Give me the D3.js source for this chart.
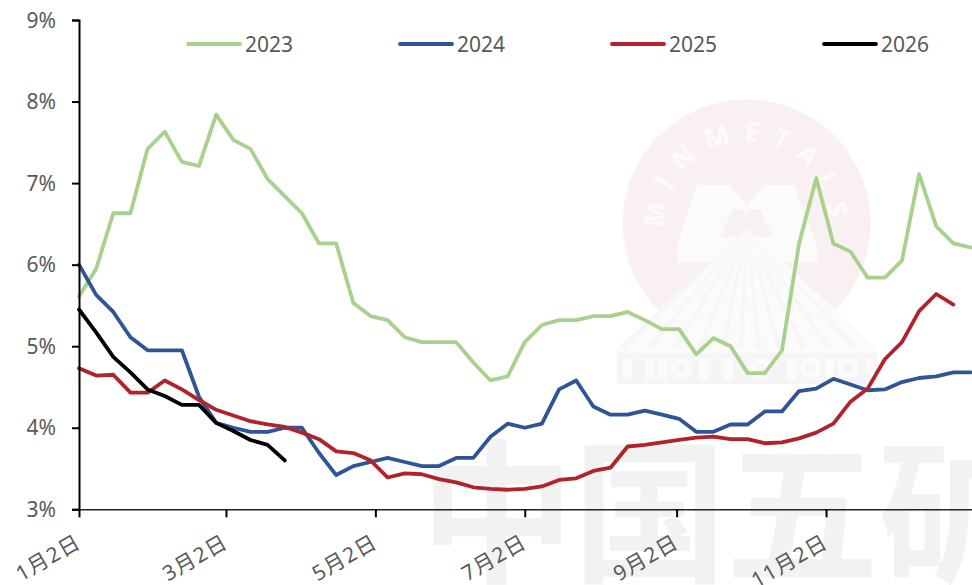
<!DOCTYPE html>
<html>
<head>
<meta charset="utf-8">
<script src="https://cdn.jsdelivr.net/npm/d3@7/dist/d3.min.js"></script>
<style>
html,body{margin:0;padding:0;background:#fff;overflow:hidden}
svg{display:block}
text{font-family:"Noto Sans","Noto Sans CJK SC",sans-serif;fill:#595959}
</style>
</head>
<body>
<svg id="chart" width="972" height="585"></svg>
<script>
const seriesNames = ["2023","2024","2025","2026"];
const seriesColors = ["#A9D18E","#2F5597","#B2222C","#000000"];
const yTickValues = [3,4,5,6,7,8,9];
const xTickDates = ["2024-01-02","2024-03-02","2024-05-02","2024-07-02","2024-09-02","2024-11-02"];
const xTickLabels = ["1月2日","3月2日","5月2日","7月2日","9月2日","11月2日"];
const watermarkChars = ["中","国","五","矿"];
const values2023 = [5.61,5.95,6.63,6.63,7.42,7.63,7.26,7.21,7.84,7.53,7.42,7.05,6.84,6.63,6.26,6.26,5.53,5.37,5.32,5.11,5.05,5.05,5.05,4.80,4.58,4.63,5.05,5.26,5.32,5.32,5.37,5.37,5.42,5.32,5.21,5.21,4.90,5.10,5.00,4.67,4.67,4.95,6.26,7.06,6.26,6.16,5.84,5.84,6.05,7.11,6.47,6.26,6.21];
const values2024 = [6.00,5.63,5.42,5.11,4.95,4.95,4.95,4.38,4.06,4.00,3.95,3.95,4.00,4.00,3.69,3.42,3.53,3.58,3.63,3.58,3.53,3.53,3.63,3.63,3.89,4.05,4.00,4.05,4.47,4.58,4.26,4.16,4.16,4.21,4.16,4.11,3.95,3.95,4.04,4.04,4.20,4.20,4.45,4.48,4.60,4.53,4.46,4.47,4.56,4.61,4.63,4.68,4.68];
const values2025 = [4.73,4.64,4.65,4.43,4.43,4.58,4.47,4.34,4.22,4.15,4.08,4.04,4.01,3.94,3.86,3.71,3.69,3.60,3.39,3.44,3.43,3.37,3.33,3.27,3.25,3.24,3.25,3.28,3.36,3.38,3.47,3.51,3.77,3.79,3.82,3.85,3.88,3.89,3.86,3.86,3.81,3.82,3.87,3.94,4.05,4.32,4.48,4.84,5.05,5.43,5.64,5.51];
const values2026 = [5.45,5.17,4.87,4.68,4.47,4.39,4.28,4.28,4.06,3.96,3.85,3.79,3.60];
const allValues = [values2023,values2024,values2025,values2026];

const parse = d3.utcParse("%Y-%m-%d");
const start = parse("2024-01-02");
const x = d3.scaleUtc().domain([start, d3.utcDay.offset(start,365)]).range([79,973]);
const y = d3.scaleLinear().domain([3,9]).range([509.3,20]);
const svg = d3.select("#chart");

// watermark: logo
const wm = svg.append("g");
const cx=746.7, cy=223.3;
wm.append("circle").attr("cx",cx).attr("cy",cy).attr("r",124).attr("fill","#F9F1F1");
wm.append("path").attr("fill","#FCFBFB")
  .attr("d","M677,246L697,185L728,185L747,205L765,185L794,185L817,246V262H677Z");
wm.append("path").attr("fill","#F9F1F1")
  .attr("d","M733,209L743,209L746,215L750,209L760,209L773,237H720Z");
wm.append("path").attr("fill","#FBFBFB")
  .attr("d","M747,229L877,348V353H617V348Z");
const rays=[-125,-98,-72,-47,-24,-6,12,32,56,82,108];
wm.selectAll("path.ray").data(rays).join("path").attr("class","ray").attr("fill","#F6F6F6")
  .attr("d",d=>`M747,229L${747+d-3},348H${747+d+3}Z`);
wm.append("rect").attr("x",617).attr("y",353).attr("width",260).attr("height",31).attr("fill","#F5F5F5");
const barCirc=[681,761,811,848];
wm.selectAll("circle.b").data(barCirc).join("circle").attr("class","b")
  .attr("cx",d=>d).attr("cy",368).attr("r",11).attr("fill","#FBFBFB");
wm.selectAll("circle.c").data(barCirc).join("circle").attr("class","c")
  .attr("cx",d=>d).attr("cy",368).attr("r",4).attr("fill","#F5F5F5");
const barRect=[623,645,658,699,724,787,825,866];
wm.selectAll("rect.b").data(barRect).join("rect").attr("class","b")
  .attr("x",d=>d).attr("y",358).attr("width",9).attr("height",21).attr("fill","#FBFBFB");
const defs=svg.append("defs");
const a0=-115*Math.PI/180, a1=115*Math.PI/180, R=82;
defs.append("path").attr("id","arc").attr("d",
  `M${cx+R*Math.sin(a0)},${cy-R*Math.cos(a0)}A${R},${R} 0 1 1 ${cx+R*Math.sin(a1)},${cy-R*Math.cos(a1)}`);
wm.append("text").style("font-size","27px").style("font-weight","700").style("letter-spacing","12px")
  .style("fill","#FDFAFA")
  .append("textPath").attr("href","#arc").attr("startOffset","50%").attr("text-anchor","middle").text("MINMETALS");

// watermark: large characters
const wmX=[497,650,802,955];
svg.append("g").selectAll("text").data(watermarkChars).join("text")
  .attr("x",(d,i)=>wmX[i]).attr("y",571).attr("text-anchor","middle")
  .style("font-family",'"Noto Sans CJK SC"').style("font-size","154px").style("font-weight","700")
  .style("fill","#F2F2F2").text(d=>d);

// lines
const line = d3.line().x((d,i)=>x(d3.utcDay.offset(start,i*7))).y(d=>y(d)).curve(d3.curveLinear);
svg.append("g").selectAll("path").data(allValues).join("path")
  .attr("d",line).attr("fill","none")
  .attr("stroke",(d,i)=>seriesColors[i]).attr("stroke-width",3.8)
  .attr("stroke-linejoin","round").attr("stroke-linecap","round");

// axes
const yAxis = d3.axisLeft(y).tickValues(yTickValues).tickSize(7).tickPadding(16).tickFormat(d=>d+"%");
const gy = svg.append("g").attr("transform","translate(79,0)").call(yAxis);
gy.selectAll("line").attr("stroke","#000").attr("stroke-width",2);
gy.select(".domain").attr("stroke","#000").attr("stroke-width",2);
gy.selectAll("text").style("font-size","21px").style("font-family",null).attr("fill",null).attr("dy","0.34em");

const xAxis = d3.axisBottom(x).tickValues(xTickDates.map(parse)).tickSize(8).tickSizeOuter(0)
  .tickFormat((d,i)=>xTickLabels[i]);
const gx = svg.append("g").attr("transform","translate(0,509.3)").call(xAxis);
gx.selectAll("line").attr("stroke","#000").attr("stroke-width",2);
gx.select(".domain").attr("stroke","#222").attr("stroke-width",1.6);
gx.selectAll("text").style("font-size","21px").style("letter-spacing","1.2px").style("font-family",null).attr("fill",null)
  .attr("text-anchor","end").attr("dy",null).attr("y",0)
  .attr("transform","translate(3,37) rotate(-30)");

// legend
const legendX=[188,400,612,824];
const lg=svg.append("g").selectAll("g").data(seriesNames).join("g")
  .attr("transform",(d,i)=>`translate(${legendX[i]},44)`);
lg.append("line").attr("x1",0).attr("x2",52).attr("stroke",(d,i)=>seriesColors[i])
  .attr("stroke-width",3.8).attr("stroke-linecap","round");
lg.append("text").attr("x",57).attr("y",7.5).style("font-size","21px").text(d=>d);
</script>
</body>
</html>
